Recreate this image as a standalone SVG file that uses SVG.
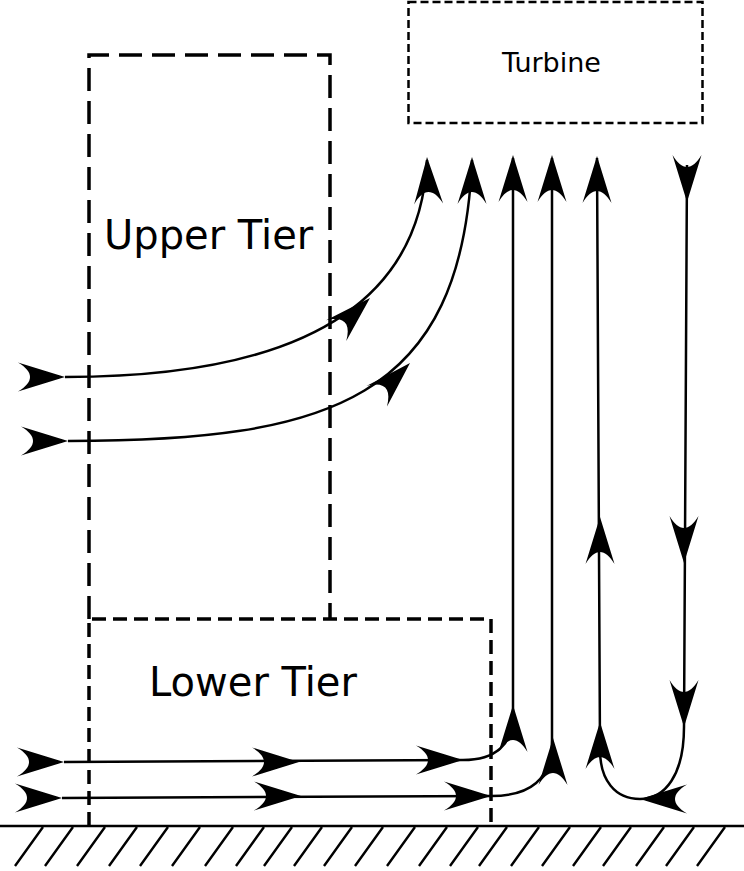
<svg xmlns="http://www.w3.org/2000/svg" xmlns:xlink="http://www.w3.org/1999/xlink" width="744" height="871" viewBox="0 0 744 871">
  <style>
    .lbl { font-family: "DejaVu Sans", "Liberation Sans", sans-serif; fill: #000; }
    .tier { fill: none; stroke: #000; stroke-width: 3.5; }
    .upper { stroke-dasharray: 23 10; }
    .lower { stroke-dasharray: 14 7; }
    .turb { fill: none; stroke: #000; stroke-width: 2.5; stroke-dasharray: 8 4; }
    .flow { fill: none; stroke: #000; stroke-width: 2.5; }
    .ground { fill: none; stroke: #000; stroke-width: 2.5; }
    .hatch { fill: none; stroke: #000; stroke-width: 2.4; }
  </style>
  <defs>
    <path id="ah" d="M0,0 L-47,-14.5 C-31,-5 -31,5 -47,14.5 Z" fill="#000"/>
  </defs>
  <rect width="744" height="871" fill="#fff"/>

  <g id="ground">
    <path class="ground" d="M0,826 H744"/>
    <path class="hatch" d="M43,827 l-28,39 M73,827 l-28,39 M105,827 l-28,39 M137,827 l-28,39 M168,827 l-28,39 M200,827 l-28,39 M233,827 l-28,39 M264,827 l-28,39 M292,827 l-28,39 M322,827 l-28,39 M352,827 l-28,39 M383,827 l-28,39 M415,827 l-28,39 M447,827 l-28,39 M478,827 l-28,39 M507,827 l-28,39 M539,827 l-28,39 M570,827 l-28,39 M601,827 l-28,39 M631,827 l-28,39 M664,827 l-28,39 M694,827 l-28,39 M725,827 l-28,39"/>
  </g>

  <g id="upper-tier">
    <path class="tier upper" d="M89,619 V55 H330 V619"/>
    <text class="lbl" x="104" y="249" font-size="40">Upper Tier</text>
  </g>

  <g id="lower-tier">
    <path class="tier lower" d="M89,826 V619 H491 V826"/>
    <text class="lbl" x="149" y="696" font-size="40">Lower Tier</text>
  </g>

  <g id="turbine">
    <rect class="turb" x="408.5" y="2" width="294" height="121"/>
    <text class="lbl" x="502" y="72" font-size="27">Turbine</text>
  </g>

  <g id="connectors">
    <path class="flow" d="M65,377 C290,377 420,310 427,160"/>
    <path class="flow" d="M68,441 C330,441 462,400 472,160"/>
    <path class="flow" d="M64,762 L463,760 C495,760 513,745 513,715 L513,158"/>
    <path class="flow" d="M62,798 L491,796 C530,796 552,780 552,740 L552,158"/>
    <path class="flow" d="M687,165 L684,727 C684,775 665,799 640,799 C615,799 600,780 600,750 L597,158"/>

    <use xlink:href="#ah" transform="translate(65,377)"/>
    <use xlink:href="#ah" transform="translate(68,441)"/>
    <use xlink:href="#ah" transform="translate(64,762)"/>
    <use xlink:href="#ah" transform="translate(62,798)"/>
    <use xlink:href="#ah" transform="translate(299,762)"/>
    <use xlink:href="#ah" transform="translate(301,796)"/>
    <use xlink:href="#ah" transform="translate(463,760)"/>
    <use xlink:href="#ah" transform="translate(491,796)"/>
    <use xlink:href="#ah" transform="translate(370,298) rotate(-44)"/>
    <use xlink:href="#ah" transform="translate(410,363) rotate(-45)"/>
    <use xlink:href="#ah" transform="translate(427,157) rotate(-92)"/>
    <use xlink:href="#ah" transform="translate(472,157) rotate(-90)"/>
    <use xlink:href="#ah" transform="translate(513,155) rotate(-90)"/>
    <use xlink:href="#ah" transform="translate(552,155) rotate(-90)"/>
    <use xlink:href="#ah" transform="translate(597,156) rotate(-90)"/>
    <use xlink:href="#ah" transform="translate(513,705) rotate(-90)"/>
    <use xlink:href="#ah" transform="translate(553,738) rotate(-90)"/>
    <use xlink:href="#ah" transform="translate(600,517) rotate(-90)"/>
    <use xlink:href="#ah" transform="translate(600,722) rotate(-90)"/>
    <use xlink:href="#ah" transform="translate(687,202) rotate(90)"/>
    <use xlink:href="#ah" transform="translate(684,563) rotate(90)"/>
    <use xlink:href="#ah" transform="translate(684,727) rotate(90)"/>
    <use xlink:href="#ah" transform="translate(640,799) rotate(180)"/>
  </g>
</svg>
